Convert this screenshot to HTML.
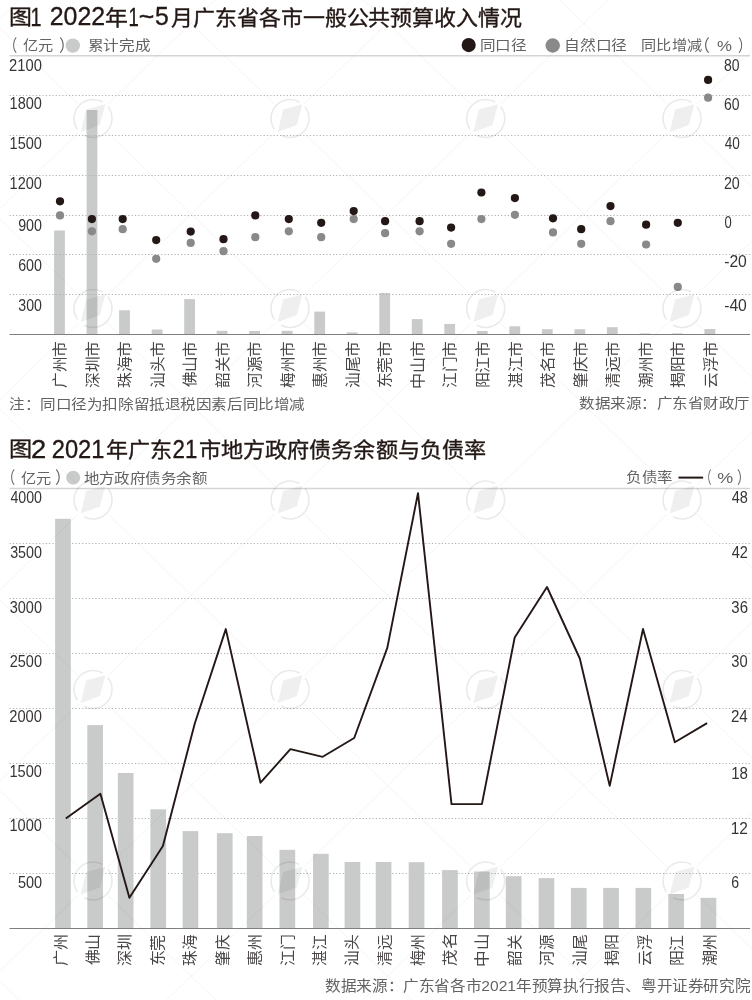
<!DOCTYPE html><html lang="zh-CN"><head><meta charset="utf-8"><style>html,body{margin:0;padding:0;background:#fff;overflow:hidden;}svg{display:block;}text{font-family:"Liberation Sans", sans-serif;}</style></head><body>
<svg width="752" height="1000" viewBox="0 0 752 1000">
<rect width="752" height="1000" fill="#fff"/>
<text x="8.99" y="23.85" font-size="21" font-weight="500" fill="#231815" stroke="#231815" stroke-width="0.35" textLength="22.92" lengthAdjust="spacingAndGlyphs">图</text>
<text x="30.55" y="25.60" font-size="25.5" font-weight="500" fill="#231815" stroke="#231815" stroke-width="0.35" textLength="10.96" lengthAdjust="spacingAndGlyphs">1</text>
<text x="49.78" y="25.35" font-size="25.5" font-weight="500" fill="#231815" stroke="#231815" stroke-width="0.35" textLength="55.43" lengthAdjust="spacingAndGlyphs">2022</text>
<text x="105.51" y="25.10" font-size="21" font-weight="500" fill="#231815" stroke="#231815" stroke-width="0.35" textLength="22.88" lengthAdjust="spacingAndGlyphs">年</text>
<text x="128.45" y="25.60" font-size="25.5" font-weight="500" fill="#231815" stroke="#231815" stroke-width="0.35" textLength="10.32" lengthAdjust="spacingAndGlyphs">1</text>
<text x="138.86" y="24.50" font-size="25.5" font-weight="500" fill="#231815" stroke="#231815" stroke-width="0.35" textLength="15.55" lengthAdjust="spacingAndGlyphs">~</text>
<text x="154.93" y="25.35" font-size="25.5" font-weight="500" fill="#231815" stroke="#231815" stroke-width="0.35" textLength="13.78" lengthAdjust="spacingAndGlyphs">5</text>
<text x="171.02" y="25.10" font-size="21" font-weight="500" fill="#231815" stroke="#231815" stroke-width="0.35" textLength="350.97" lengthAdjust="spacingAndGlyphs">月广东省各市一般公共预算收入情况</text>
<text x="4.40" y="52.15" font-size="16.5" font-weight="300" fill="#646262" textLength="13.60" lengthAdjust="spacingAndGlyphs">（</text>
<text x="23.06" y="50.05" font-size="14" font-weight="300" fill="#646262" textLength="30.39" lengthAdjust="spacingAndGlyphs">亿元</text>
<text x="58.79" y="52.15" font-size="16.5" font-weight="300" fill="#646262" textLength="16.00" lengthAdjust="spacingAndGlyphs">）</text>
<circle cx="72.8" cy="45.6" r="7.2" fill="#c9caca"/>
<text x="87.86" y="49.90" font-size="14" font-weight="300" fill="#646262" textLength="62.39" lengthAdjust="spacingAndGlyphs">累计完成</text>
<circle cx="468.7" cy="45.1" r="7.05" fill="#231815"/>
<text x="479.71" y="49.85" font-size="14" font-weight="300" fill="#646262" textLength="46.64" lengthAdjust="spacingAndGlyphs">同口径</text>
<circle cx="552.7" cy="45.5" r="7.2" fill="#898989"/>
<text x="564.07" y="49.65" font-size="14" font-weight="300" fill="#646262" textLength="62.89" lengthAdjust="spacingAndGlyphs">自然口径</text>
<text x="641.35" y="49.65" font-size="14" font-weight="300" fill="#646262" textLength="60.59" lengthAdjust="spacingAndGlyphs">同比增减</text>
<text x="694.31" y="51.95" font-size="16.5" font-weight="300" fill="#646262" textLength="16.40" lengthAdjust="spacingAndGlyphs">（</text>
<text x="717.06" y="51.05" font-size="15.5" font-weight="300" fill="#646262" textLength="14.93" lengthAdjust="spacingAndGlyphs">%</text>
<text x="737.78" y="51.95" font-size="16.5" font-weight="300" fill="#646262" textLength="14.00" lengthAdjust="spacingAndGlyphs">）</text>
<text x="9.11" y="70.75" font-size="16" font-weight="300" fill="#383434" textLength="32.74" lengthAdjust="spacingAndGlyphs">2100</text>
<text x="9.57" y="109.45" font-size="16" font-weight="300" fill="#383434" textLength="32.27" lengthAdjust="spacingAndGlyphs">1800</text>
<text x="9.57" y="149.05" font-size="16" font-weight="300" fill="#383434" textLength="32.27" lengthAdjust="spacingAndGlyphs">1500</text>
<text x="9.57" y="188.65" font-size="16" font-weight="300" fill="#383434" textLength="32.27" lengthAdjust="spacingAndGlyphs">1200</text>
<text x="18.13" y="231.15" font-size="16" font-weight="300" fill="#383434" textLength="23.79" lengthAdjust="spacingAndGlyphs">900</text>
<text x="18.13" y="271.05" font-size="16" font-weight="300" fill="#383434" textLength="23.79" lengthAdjust="spacingAndGlyphs">600</text>
<text x="18.36" y="310.65" font-size="16" font-weight="300" fill="#383434" textLength="23.56" lengthAdjust="spacingAndGlyphs">300</text>
<text x="723.95" y="71.35" font-size="16" font-weight="300" fill="#383434" textLength="15.53" lengthAdjust="spacingAndGlyphs">80</text>
<text x="723.95" y="110.05" font-size="16" font-weight="300" fill="#383434" textLength="15.53" lengthAdjust="spacingAndGlyphs">60</text>
<text x="724.69" y="149.35" font-size="16" font-weight="300" fill="#383434" textLength="15.07" lengthAdjust="spacingAndGlyphs">40</text>
<text x="723.93" y="188.65" font-size="16" font-weight="300" fill="#383434" textLength="15.86" lengthAdjust="spacingAndGlyphs">20</text>
<text x="724.49" y="227.85" font-size="16" font-weight="300" fill="#383434" textLength="7.24" lengthAdjust="spacingAndGlyphs">0</text>
<text x="724.17" y="267.45" font-size="16" font-weight="300" fill="#383434" textLength="22.65" lengthAdjust="spacingAndGlyphs">-20</text>
<text x="724.17" y="310.95" font-size="16" font-weight="300" fill="#383434" textLength="22.65" lengthAdjust="spacingAndGlyphs">-40</text>
<rect x="54.1" y="230.5" width="10.8" height="103.5" fill="#c9caca"/>
<rect x="86.6" y="110" width="10.8" height="224.0" fill="#c9caca"/>
<rect x="119.1" y="310.3" width="10.8" height="23.7" fill="#c9caca"/>
<rect x="151.7" y="329.5" width="10.8" height="4.5" fill="#c9caca"/>
<rect x="184.2" y="299.1" width="10.8" height="34.9" fill="#c9caca"/>
<rect x="216.7" y="330.8" width="10.8" height="3.2" fill="#c9caca"/>
<rect x="249.2" y="331" width="10.8" height="3.0" fill="#c9caca"/>
<rect x="281.7" y="330.8" width="10.8" height="3.2" fill="#c9caca"/>
<rect x="314.3" y="311.6" width="10.8" height="22.4" fill="#c9caca"/>
<rect x="346.8" y="332.4" width="10.8" height="1.6" fill="#c9caca"/>
<rect x="379.3" y="293" width="10.8" height="41.0" fill="#c9caca"/>
<rect x="411.8" y="319.1" width="10.8" height="14.9" fill="#c9caca"/>
<rect x="444.3" y="323.9" width="10.8" height="10.1" fill="#c9caca"/>
<rect x="476.9" y="331" width="10.8" height="3.0" fill="#c9caca"/>
<rect x="509.4" y="326.3" width="10.8" height="7.7" fill="#c9caca"/>
<rect x="541.9" y="329.2" width="10.8" height="4.8" fill="#c9caca"/>
<rect x="574.4" y="329.2" width="10.8" height="4.8" fill="#c9caca"/>
<rect x="606.9" y="327.2" width="10.8" height="6.8" fill="#c9caca"/>
<rect x="639.5" y="333.4" width="10.8" height="0.6" fill="#c9caca"/>
<rect x="672.0" y="333.4" width="10.8" height="0.6" fill="#c9caca"/>
<rect x="704.5" y="329" width="10.8" height="5.0" fill="#c9caca"/>
<line x1="9.5" y1="55.8" x2="750" y2="55.8" stroke="#d5d5d5" stroke-width="1.5"/>
<line x1="9.5" y1="95.5" x2="750" y2="95.5" stroke="#b0b0b0" stroke-width="1" stroke-dasharray="1.2 2.1"/>
<line x1="9.5" y1="135.5" x2="750" y2="135.5" stroke="#b0b0b0" stroke-width="1" stroke-dasharray="1.2 2.1"/>
<line x1="9.5" y1="175.5" x2="750" y2="175.5" stroke="#b0b0b0" stroke-width="1" stroke-dasharray="1.2 2.1"/>
<line x1="9.5" y1="215.5" x2="750" y2="215.5" stroke="#b0b0b0" stroke-width="1" stroke-dasharray="1.2 2.1"/>
<line x1="9.5" y1="254.5" x2="750" y2="254.5" stroke="#b0b0b0" stroke-width="1" stroke-dasharray="1.2 2.1"/>
<line x1="9.5" y1="294.5" x2="750" y2="294.5" stroke="#b0b0b0" stroke-width="1" stroke-dasharray="1.2 2.1"/>
<line x1="9.5" y1="334.5" x2="750" y2="334.5" stroke="#7f7f7f" stroke-width="1"/>
<circle cx="60" cy="215.4" r="4.1" fill="#898989"/>
<circle cx="60" cy="201.3" r="4.1" fill="#231815"/>
<circle cx="91.9" cy="231.3" r="4.1" fill="#898989"/>
<circle cx="91.9" cy="219.1" r="4.1" fill="#231815"/>
<circle cx="122.7" cy="229.2" r="4.1" fill="#898989"/>
<circle cx="122.7" cy="219.1" r="4.1" fill="#231815"/>
<circle cx="156.2" cy="258.8" r="4.1" fill="#898989"/>
<circle cx="156.2" cy="240.1" r="4.1" fill="#231815"/>
<circle cx="190.7" cy="242.9" r="4.1" fill="#898989"/>
<circle cx="190.7" cy="231.6" r="4.1" fill="#231815"/>
<circle cx="223.5" cy="251.2" r="4.1" fill="#898989"/>
<circle cx="223.5" cy="239.2" r="4.1" fill="#231815"/>
<circle cx="255.3" cy="237.2" r="4.1" fill="#898989"/>
<circle cx="255.3" cy="215.4" r="4.1" fill="#231815"/>
<circle cx="288.8" cy="231.3" r="4.1" fill="#898989"/>
<circle cx="288.8" cy="219.1" r="4.1" fill="#231815"/>
<circle cx="321.2" cy="237.2" r="4.1" fill="#898989"/>
<circle cx="321.2" cy="222.8" r="4.1" fill="#231815"/>
<circle cx="353.7" cy="219.1" r="4.1" fill="#898989"/>
<circle cx="353.7" cy="211.1" r="4.1" fill="#231815"/>
<circle cx="385.1" cy="233.2" r="4.1" fill="#898989"/>
<circle cx="385.1" cy="221.2" r="4.1" fill="#231815"/>
<circle cx="419.6" cy="231.3" r="4.1" fill="#898989"/>
<circle cx="419.6" cy="221.2" r="4.1" fill="#231815"/>
<circle cx="451.1" cy="243.8" r="4.1" fill="#898989"/>
<circle cx="451.1" cy="227.6" r="4.1" fill="#231815"/>
<circle cx="481.4" cy="219.1" r="4.1" fill="#898989"/>
<circle cx="481.4" cy="192.5" r="4.1" fill="#231815"/>
<circle cx="514.9" cy="214.8" r="4.1" fill="#898989"/>
<circle cx="514.9" cy="198.1" r="4.1" fill="#231815"/>
<circle cx="553" cy="232.4" r="4.1" fill="#898989"/>
<circle cx="553" cy="218.3" r="4.1" fill="#231815"/>
<circle cx="581.2" cy="243.8" r="4.1" fill="#898989"/>
<circle cx="581.2" cy="229.2" r="4.1" fill="#231815"/>
<circle cx="610.5" cy="221.2" r="4.1" fill="#898989"/>
<circle cx="610.5" cy="206.1" r="4.1" fill="#231815"/>
<circle cx="646.1" cy="244.5" r="4.1" fill="#898989"/>
<circle cx="646.1" cy="224.7" r="4.1" fill="#231815"/>
<circle cx="677.8" cy="286.9" r="4.1" fill="#898989"/>
<circle cx="677.8" cy="222.8" r="4.1" fill="#231815"/>
<circle cx="708.1" cy="97.7" r="4.1" fill="#898989"/>
<circle cx="708.1" cy="79.9" r="4.1" fill="#231815"/>
<text transform="translate(65.25,387.77) rotate(-90)" font-size="15.3" font-weight="300" fill="#4a4646" textLength="46.29" lengthAdjust="spacingAndGlyphs">广州市</text>
<text transform="translate(97.77,387.77) rotate(-90)" font-size="15.3" font-weight="300" fill="#4a4646" textLength="46.29" lengthAdjust="spacingAndGlyphs">深圳市</text>
<text transform="translate(130.29,387.77) rotate(-90)" font-size="15.3" font-weight="300" fill="#4a4646" textLength="46.29" lengthAdjust="spacingAndGlyphs">珠海市</text>
<text transform="translate(162.81,387.77) rotate(-90)" font-size="15.3" font-weight="300" fill="#4a4646" textLength="46.29" lengthAdjust="spacingAndGlyphs">汕头市</text>
<text transform="translate(195.33,387.25) rotate(-90)" font-size="15.3" font-weight="300" fill="#4a4646" textLength="45.76" lengthAdjust="spacingAndGlyphs">佛山市</text>
<text transform="translate(227.85,387.51) rotate(-90)" font-size="15.3" font-weight="300" fill="#4a4646" textLength="46.02" lengthAdjust="spacingAndGlyphs">韶关市</text>
<text transform="translate(260.37,387.51) rotate(-90)" font-size="15.3" font-weight="300" fill="#4a4646" textLength="46.02" lengthAdjust="spacingAndGlyphs">河源市</text>
<text transform="translate(292.89,387.51) rotate(-90)" font-size="15.3" font-weight="300" fill="#4a4646" textLength="46.02" lengthAdjust="spacingAndGlyphs">梅州市</text>
<text transform="translate(325.41,387.77) rotate(-90)" font-size="15.3" font-weight="300" fill="#4a4646" textLength="46.29" lengthAdjust="spacingAndGlyphs">惠州市</text>
<text transform="translate(357.93,387.77) rotate(-90)" font-size="15.3" font-weight="300" fill="#4a4646" textLength="46.29" lengthAdjust="spacingAndGlyphs">汕尾市</text>
<text transform="translate(390.45,388.30) rotate(-90)" font-size="15.3" font-weight="300" fill="#4a4646" textLength="46.82" lengthAdjust="spacingAndGlyphs">东莞市</text>
<text transform="translate(422.97,388.57) rotate(-90)" font-size="15.3" font-weight="300" fill="#4a4646" textLength="47.09" lengthAdjust="spacingAndGlyphs">中山市</text>
<text transform="translate(455.49,387.77) rotate(-90)" font-size="15.3" font-weight="300" fill="#4a4646" textLength="46.29" lengthAdjust="spacingAndGlyphs">江门市</text>
<text transform="translate(488.01,388.30) rotate(-90)" font-size="15.3" font-weight="300" fill="#4a4646" textLength="46.82" lengthAdjust="spacingAndGlyphs">阳江市</text>
<text transform="translate(520.53,387.77) rotate(-90)" font-size="15.3" font-weight="300" fill="#4a4646" textLength="46.29" lengthAdjust="spacingAndGlyphs">湛江市</text>
<text transform="translate(553.05,387.51) rotate(-90)" font-size="15.3" font-weight="300" fill="#4a4646" textLength="46.02" lengthAdjust="spacingAndGlyphs">茂名市</text>
<text transform="translate(585.57,387.51) rotate(-90)" font-size="15.3" font-weight="300" fill="#4a4646" textLength="46.02" lengthAdjust="spacingAndGlyphs">肇庆市</text>
<text transform="translate(618.09,387.51) rotate(-90)" font-size="15.3" font-weight="300" fill="#4a4646" textLength="46.02" lengthAdjust="spacingAndGlyphs">清远市</text>
<text transform="translate(650.61,387.51) rotate(-90)" font-size="15.3" font-weight="300" fill="#4a4646" textLength="46.02" lengthAdjust="spacingAndGlyphs">潮州市</text>
<text transform="translate(683.13,387.77) rotate(-90)" font-size="15.3" font-weight="300" fill="#4a4646" textLength="46.29" lengthAdjust="spacingAndGlyphs">揭阳市</text>
<text transform="translate(715.65,387.77) rotate(-90)" font-size="15.3" font-weight="300" fill="#4a4646" textLength="46.29" lengthAdjust="spacingAndGlyphs">云浮市</text>
<text x="9.04" y="408.60" font-size="14" font-weight="300" fill="#646262" textLength="295.81" lengthAdjust="spacingAndGlyphs">注：同口径为扣除留抵退税因素后同比增减</text>
<text x="579.35" y="408.35" font-size="14" font-weight="300" fill="#646262" textLength="170.61" lengthAdjust="spacingAndGlyphs">数据来源：广东省财政厅</text>
<text x="9.07" y="456.15" font-size="21" font-weight="500" fill="#231815" stroke="#231815" stroke-width="0.35" textLength="23.16" lengthAdjust="spacingAndGlyphs">图</text>
<text x="30.96" y="458.40" font-size="25.5" font-weight="500" fill="#231815" stroke="#231815" stroke-width="0.35" textLength="15.21" lengthAdjust="spacingAndGlyphs">2</text>
<text x="51.74" y="458.15" font-size="25.5" font-weight="500" fill="#231815" stroke="#231815" stroke-width="0.35" textLength="52.71" lengthAdjust="spacingAndGlyphs">2021</text>
<text x="105.55" y="457.40" font-size="21" font-weight="500" fill="#231815" stroke="#231815" stroke-width="0.35" textLength="66.06" lengthAdjust="spacingAndGlyphs">年广东</text>
<text x="172.51" y="458.40" font-size="25.5" font-weight="500" fill="#231815" stroke="#231815" stroke-width="0.35" textLength="24.77" lengthAdjust="spacingAndGlyphs">21</text>
<text x="198.55" y="457.40" font-size="21" font-weight="500" fill="#231815" stroke="#231815" stroke-width="0.35" textLength="287.61" lengthAdjust="spacingAndGlyphs">市地方政府债务余额与负债率</text>
<text x="2.40" y="484.35" font-size="16.5" font-weight="300" fill="#646262" textLength="13.60" lengthAdjust="spacingAndGlyphs">（</text>
<text x="21.06" y="482.75" font-size="14" font-weight="300" fill="#646262" textLength="30.39" lengthAdjust="spacingAndGlyphs">亿元</text>
<text x="55.49" y="484.35" font-size="16.5" font-weight="300" fill="#646262" textLength="16.00" lengthAdjust="spacingAndGlyphs">）</text>
<circle cx="73.15" cy="477.65" r="7.0" fill="#c9caca"/>
<text x="83.55" y="483.00" font-size="14" font-weight="300" fill="#646262" textLength="123.81" lengthAdjust="spacingAndGlyphs">地方政府债务余额</text>
<text x="626.47" y="482.25" font-size="14" font-weight="300" fill="#646262" textLength="46.25" lengthAdjust="spacingAndGlyphs">负债率</text>
<line x1="678.5" y1="477.6" x2="703.1" y2="477.6" stroke="#231815" stroke-width="2"/>
<text x="701.19" y="484.35" font-size="16.5" font-weight="300" fill="#646262" textLength="10.80" lengthAdjust="spacingAndGlyphs">（</text>
<text x="717.22" y="482.65" font-size="15.5" font-weight="300" fill="#646262" textLength="15.91" lengthAdjust="spacingAndGlyphs">%</text>
<text x="737.22" y="484.35" font-size="16.5" font-weight="300" fill="#646262" textLength="13.20" lengthAdjust="spacingAndGlyphs">）</text>
<line x1="9.5" y1="488.4" x2="750" y2="488.4" stroke="#d5d5d5" stroke-width="1.5"/>
<line x1="9.5" y1="543.5" x2="750" y2="543.5" stroke="#b0b0b0" stroke-width="1" stroke-dasharray="1.2 2.1"/>
<line x1="9.5" y1="598.5" x2="750" y2="598.5" stroke="#b0b0b0" stroke-width="1" stroke-dasharray="1.2 2.1"/>
<line x1="9.5" y1="653.5" x2="750" y2="653.5" stroke="#b0b0b0" stroke-width="1" stroke-dasharray="1.2 2.1"/>
<line x1="9.5" y1="708.5" x2="750" y2="708.5" stroke="#b0b0b0" stroke-width="1" stroke-dasharray="1.2 2.1"/>
<line x1="9.5" y1="763.5" x2="750" y2="763.5" stroke="#b0b0b0" stroke-width="1" stroke-dasharray="1.2 2.1"/>
<line x1="9.5" y1="818.5" x2="750" y2="818.5" stroke="#b0b0b0" stroke-width="1" stroke-dasharray="1.2 2.1"/>
<line x1="9.5" y1="873.5" x2="750" y2="873.5" stroke="#b0b0b0" stroke-width="1" stroke-dasharray="1.2 2.1"/>
<text x="10.38" y="503.05" font-size="16" font-weight="300" fill="#383434" textLength="31.55" lengthAdjust="spacingAndGlyphs">4000</text>
<text x="10.15" y="558.25" font-size="16" font-weight="300" fill="#383434" textLength="31.78" lengthAdjust="spacingAndGlyphs">3500</text>
<text x="9.75" y="612.65" font-size="16" font-weight="300" fill="#383434" textLength="32.19" lengthAdjust="spacingAndGlyphs">3000</text>
<text x="9.72" y="667.45" font-size="16" font-weight="300" fill="#383434" textLength="32.22" lengthAdjust="spacingAndGlyphs">2500</text>
<text x="9.31" y="722.25" font-size="16" font-weight="300" fill="#383434" textLength="32.63" lengthAdjust="spacingAndGlyphs">2000</text>
<text x="9.46" y="777.05" font-size="16" font-weight="300" fill="#383434" textLength="32.48" lengthAdjust="spacingAndGlyphs">1500</text>
<text x="9.46" y="831.25" font-size="16" font-weight="300" fill="#383434" textLength="32.48" lengthAdjust="spacingAndGlyphs">1000</text>
<text x="17.92" y="888.25" font-size="16" font-weight="300" fill="#383434" textLength="24.11" lengthAdjust="spacingAndGlyphs">500</text>
<text x="731.77" y="503.25" font-size="16" font-weight="300" fill="#383434" textLength="16.15" lengthAdjust="spacingAndGlyphs">48</text>
<text x="731.77" y="558.25" font-size="16" font-weight="300" fill="#383434" textLength="16.15" lengthAdjust="spacingAndGlyphs">42</text>
<text x="731.33" y="612.65" font-size="16" font-weight="300" fill="#383434" textLength="16.61" lengthAdjust="spacingAndGlyphs">36</text>
<text x="731.34" y="667.45" font-size="16" font-weight="300" fill="#383434" textLength="16.36" lengthAdjust="spacingAndGlyphs">30</text>
<text x="730.89" y="722.45" font-size="16" font-weight="300" fill="#383434" textLength="16.83" lengthAdjust="spacingAndGlyphs">24</text>
<text x="731.23" y="779.05" font-size="16" font-weight="300" fill="#383434" textLength="16.72" lengthAdjust="spacingAndGlyphs">18</text>
<text x="730.79" y="833.65" font-size="16" font-weight="300" fill="#383434" textLength="17.18" lengthAdjust="spacingAndGlyphs">12</text>
<text x="731.14" y="888.25" font-size="16" font-weight="300" fill="#383434" textLength="7.84" lengthAdjust="spacingAndGlyphs">6</text>
<rect x="55.1" y="518.8" width="15.7" height="409.2" fill="#c9caca"/>
<rect x="87.3" y="725.1" width="15.7" height="202.9" fill="#c9caca"/>
<rect x="117.8" y="773" width="15.7" height="155.0" fill="#c9caca"/>
<rect x="150.4" y="809.3" width="15.7" height="118.7" fill="#c9caca"/>
<rect x="182.6" y="831.1" width="15.7" height="96.9" fill="#c9caca"/>
<rect x="216.9" y="833.2" width="15.7" height="94.8" fill="#c9caca"/>
<rect x="246.8" y="836" width="15.7" height="92.0" fill="#c9caca"/>
<rect x="279.5" y="849.8" width="15.7" height="78.2" fill="#c9caca"/>
<rect x="313" y="853.8" width="15.7" height="74.2" fill="#c9caca"/>
<rect x="344.6" y="862" width="15.7" height="66.0" fill="#c9caca"/>
<rect x="375.7" y="862" width="15.7" height="66.0" fill="#c9caca"/>
<rect x="408.7" y="862.2" width="15.7" height="65.8" fill="#c9caca"/>
<rect x="442.1" y="870.1" width="15.7" height="57.9" fill="#c9caca"/>
<rect x="474" y="871.5" width="15.7" height="56.5" fill="#c9caca"/>
<rect x="505.8" y="876.2" width="15.7" height="51.8" fill="#c9caca"/>
<rect x="538.6" y="878.1" width="15.7" height="49.9" fill="#c9caca"/>
<rect x="570.9" y="887.9" width="15.7" height="40.1" fill="#c9caca"/>
<rect x="603.2" y="887.9" width="15.7" height="40.1" fill="#c9caca"/>
<rect x="635.5" y="887.9" width="15.7" height="40.1" fill="#c9caca"/>
<rect x="668.3" y="894" width="15.7" height="34.0" fill="#c9caca"/>
<rect x="700.6" y="897.8" width="15.7" height="30.2" fill="#c9caca"/>
<line x1="9.5" y1="928.5" x2="750" y2="928.5" stroke="#7f7f7f" stroke-width="1"/>
<path d="M65.8,818.6L100.4,793.8L129.4,897.8L162.9,846L194.7,723.7L225.8,629.1L260.5,782.7L290.4,749.2L322.7,756.8L354.2,738L387.3,647.9L418,493.1L451.5,804.1L481.9,804.1L514.7,637.5L547,587L579.8,658.5L609.7,785.9L643,629L674.8,742.3L707.1,723.1" fill="none" stroke="#231815" stroke-width="1.9" stroke-linejoin="round"/>
<text transform="translate(65.60,965.79) rotate(-90)" font-size="15.3" font-weight="300" fill="#4a4646" textLength="31.71" lengthAdjust="spacingAndGlyphs">广州</text>
<text transform="translate(98.05,965.26) rotate(-90)" font-size="15.3" font-weight="300" fill="#4a4646" textLength="31.16" lengthAdjust="spacingAndGlyphs">佛山</text>
<text transform="translate(130.25,965.79) rotate(-90)" font-size="15.3" font-weight="300" fill="#4a4646" textLength="31.43" lengthAdjust="spacingAndGlyphs">深圳</text>
<text transform="translate(162.95,966.31) rotate(-90)" font-size="15.3" font-weight="300" fill="#4a4646" textLength="31.43" lengthAdjust="spacingAndGlyphs">东莞</text>
<text transform="translate(195.40,965.77) rotate(-90)" font-size="15.3" font-weight="300" fill="#4a4646" textLength="30.62" lengthAdjust="spacingAndGlyphs">珠海</text>
<text transform="translate(227.85,965.51) rotate(-90)" font-size="15.3" font-weight="300" fill="#4a4646" textLength="30.36" lengthAdjust="spacingAndGlyphs">肇庆</text>
<text transform="translate(260.30,965.79) rotate(-90)" font-size="15.3" font-weight="300" fill="#4a4646" textLength="31.71" lengthAdjust="spacingAndGlyphs">惠州</text>
<text transform="translate(292.75,965.79) rotate(-90)" font-size="15.3" font-weight="300" fill="#4a4646" textLength="31.43" lengthAdjust="spacingAndGlyphs">江门</text>
<text transform="translate(325.20,965.77) rotate(-90)" font-size="15.3" font-weight="300" fill="#4a4646" textLength="30.62" lengthAdjust="spacingAndGlyphs">湛江</text>
<text transform="translate(357.40,965.77) rotate(-90)" font-size="15.3" font-weight="300" fill="#4a4646" textLength="30.89" lengthAdjust="spacingAndGlyphs">汕头</text>
<text transform="translate(390.10,965.51) rotate(-90)" font-size="15.3" font-weight="300" fill="#4a4646" textLength="30.36" lengthAdjust="spacingAndGlyphs">清远</text>
<text transform="translate(422.55,965.52) rotate(-90)" font-size="15.3" font-weight="300" fill="#4a4646" textLength="31.43" lengthAdjust="spacingAndGlyphs">梅州</text>
<text transform="translate(455.00,965.54) rotate(-90)" font-size="15.3" font-weight="300" fill="#4a4646" textLength="32.29" lengthAdjust="spacingAndGlyphs">茂名</text>
<text transform="translate(487.45,966.63) rotate(-90)" font-size="15.3" font-weight="300" fill="#4a4646" textLength="32.59" lengthAdjust="spacingAndGlyphs">中山</text>
<text transform="translate(519.90,965.51) rotate(-90)" font-size="15.3" font-weight="300" fill="#4a4646" textLength="30.36" lengthAdjust="spacingAndGlyphs">韶关</text>
<text transform="translate(552.10,965.51) rotate(-90)" font-size="15.3" font-weight="300" fill="#4a4646" textLength="30.36" lengthAdjust="spacingAndGlyphs">河源</text>
<text transform="translate(584.55,965.77) rotate(-90)" font-size="15.3" font-weight="300" fill="#4a4646" textLength="30.89" lengthAdjust="spacingAndGlyphs">汕尾</text>
<text transform="translate(617.25,965.79) rotate(-90)" font-size="15.3" font-weight="300" fill="#4a4646" textLength="31.43" lengthAdjust="spacingAndGlyphs">揭阳</text>
<text transform="translate(649.70,965.78) rotate(-90)" font-size="15.3" font-weight="300" fill="#4a4646" textLength="31.16" lengthAdjust="spacingAndGlyphs">云浮</text>
<text transform="translate(681.90,966.30) rotate(-90)" font-size="15.3" font-weight="300" fill="#4a4646" textLength="31.16" lengthAdjust="spacingAndGlyphs">阳江</text>
<text transform="translate(714.60,965.52) rotate(-90)" font-size="15.3" font-weight="300" fill="#4a4646" textLength="31.43" lengthAdjust="spacingAndGlyphs">潮州</text>
<text x="325.12" y="990.80" font-size="15" font-weight="300" fill="#646262" textLength="425.23" lengthAdjust="spacingAndGlyphs">数据来源：广东省各市2021年预算执行报告、粤开证券研究院</text>
<defs><mask id="wmm" maskUnits="userSpaceOnUse" x="0" y="0" width="752" height="1000"><rect width="752" height="1000" fill="#fff"/><circle cx="93" cy="118.5" r="20.5" fill="#000"/><circle cx="290" cy="118.5" r="20.5" fill="#000"/><circle cx="485.7" cy="118.5" r="20.5" fill="#000"/><circle cx="682" cy="118.5" r="20.5" fill="#000"/><circle cx="93" cy="308.5" r="20.5" fill="#000"/><circle cx="290" cy="308.5" r="20.5" fill="#000"/><circle cx="485.7" cy="308.5" r="20.5" fill="#000"/><circle cx="682" cy="308.5" r="20.5" fill="#000"/><circle cx="93" cy="500" r="20.5" fill="#000"/><circle cx="290" cy="500" r="20.5" fill="#000"/><circle cx="485.7" cy="500" r="20.5" fill="#000"/><circle cx="682" cy="500" r="20.5" fill="#000"/><circle cx="93" cy="689.5" r="20.5" fill="#000"/><circle cx="290" cy="689.5" r="20.5" fill="#000"/><circle cx="485.7" cy="689.5" r="20.5" fill="#000"/><circle cx="682" cy="689.5" r="20.5" fill="#000"/><circle cx="93" cy="881" r="20.5" fill="#000"/><circle cx="290" cy="881" r="20.5" fill="#000"/><circle cx="485.7" cy="881" r="20.5" fill="#000"/><circle cx="682" cy="881" r="20.5" fill="#000"/></mask></defs>
<g style="mix-blend-mode:multiply"><path d="M-1650.9,-50L-518.0,1050M-1303.9,-50L-2436.8,1050M-1454.6,-50L-321.7,1050M-1107.6,-50L-2240.5,1050M-1258.3,-50L-125.4,1050M-911.3,-50L-2044.2,1050M-1062.0,-50L70.9,1050M-715.0,-50L-1847.9,1050M-865.7,-50L267.2,1050M-518.7,-50L-1651.6,1050M-669.4,-50L463.5,1050M-322.4,-50L-1455.3,1050M-473.1,-50L659.8,1050M-126.1,-50L-1259.0,1050M-276.8,-50L856.1,1050M70.2,-50L-1062.7,1050M-80.5,-50L1052.4,1050M266.5,-50L-866.4,1050M115.8,-50L1248.7,1050M462.8,-50L-670.1,1050M312.1,-50L1445.0,1050M659.1,-50L-473.8,1050M508.4,-50L1641.3,1050M855.4,-50L-277.5,1050M704.7,-50L1837.6,1050M1051.7,-50L-81.2,1050M901.0,-50L2033.9,1050M1248.0,-50L115.1,1050M1097.3,-50L2230.2,1050M1444.3,-50L311.4,1050M1293.6,-50L2426.5,1050M1640.6,-50L507.7,1050M1489.9,-50L2622.8,1050M1836.9,-50L704.0,1050" stroke="#f4f4f4" stroke-width="1" fill="none" mask="url(#wmm)"/><g transform="translate(93,118.5)"><path d="M14.97,-11.70A19,19 0 0 1 -8.92,16.78M-15.56,10.90A19,19 0 0 1 9.50,-16.45" fill="none" stroke="#eaeaea" stroke-width="1.6"/><path d="M12.4,-14.3L-6.8,-9.1L-12.3,13.6L6.8,6.4Z" fill="#efefef"/></g><g transform="translate(290,118.5)"><path d="M14.97,-11.70A19,19 0 0 1 -8.92,16.78M-15.56,10.90A19,19 0 0 1 9.50,-16.45" fill="none" stroke="#eaeaea" stroke-width="1.6"/><path d="M12.4,-14.3L-6.8,-9.1L-12.3,13.6L6.8,6.4Z" fill="#efefef"/></g><g transform="translate(485.7,118.5)"><path d="M14.97,-11.70A19,19 0 0 1 -8.92,16.78M-15.56,10.90A19,19 0 0 1 9.50,-16.45" fill="none" stroke="#eaeaea" stroke-width="1.6"/><path d="M12.4,-14.3L-6.8,-9.1L-12.3,13.6L6.8,6.4Z" fill="#efefef"/></g><g transform="translate(682,118.5)"><path d="M14.97,-11.70A19,19 0 0 1 -8.92,16.78M-15.56,10.90A19,19 0 0 1 9.50,-16.45" fill="none" stroke="#eaeaea" stroke-width="1.6"/><path d="M12.4,-14.3L-6.8,-9.1L-12.3,13.6L6.8,6.4Z" fill="#efefef"/></g><g transform="translate(93,308.5)"><path d="M14.97,-11.70A19,19 0 0 1 -8.92,16.78M-15.56,10.90A19,19 0 0 1 9.50,-16.45" fill="none" stroke="#eaeaea" stroke-width="1.6"/><path d="M12.4,-14.3L-6.8,-9.1L-12.3,13.6L6.8,6.4Z" fill="#efefef"/></g><g transform="translate(290,308.5)"><path d="M14.97,-11.70A19,19 0 0 1 -8.92,16.78M-15.56,10.90A19,19 0 0 1 9.50,-16.45" fill="none" stroke="#eaeaea" stroke-width="1.6"/><path d="M12.4,-14.3L-6.8,-9.1L-12.3,13.6L6.8,6.4Z" fill="#efefef"/></g><g transform="translate(485.7,308.5)"><path d="M14.97,-11.70A19,19 0 0 1 -8.92,16.78M-15.56,10.90A19,19 0 0 1 9.50,-16.45" fill="none" stroke="#eaeaea" stroke-width="1.6"/><path d="M12.4,-14.3L-6.8,-9.1L-12.3,13.6L6.8,6.4Z" fill="#efefef"/></g><g transform="translate(682,308.5)"><path d="M14.97,-11.70A19,19 0 0 1 -8.92,16.78M-15.56,10.90A19,19 0 0 1 9.50,-16.45" fill="none" stroke="#eaeaea" stroke-width="1.6"/><path d="M12.4,-14.3L-6.8,-9.1L-12.3,13.6L6.8,6.4Z" fill="#efefef"/></g><g transform="translate(93,500)"><path d="M14.97,-11.70A19,19 0 0 1 -8.92,16.78M-15.56,10.90A19,19 0 0 1 9.50,-16.45" fill="none" stroke="#eaeaea" stroke-width="1.6"/><path d="M12.4,-14.3L-6.8,-9.1L-12.3,13.6L6.8,6.4Z" fill="#efefef"/></g><g transform="translate(290,500)"><path d="M14.97,-11.70A19,19 0 0 1 -8.92,16.78M-15.56,10.90A19,19 0 0 1 9.50,-16.45" fill="none" stroke="#eaeaea" stroke-width="1.6"/><path d="M12.4,-14.3L-6.8,-9.1L-12.3,13.6L6.8,6.4Z" fill="#efefef"/></g><g transform="translate(485.7,500)"><path d="M14.97,-11.70A19,19 0 0 1 -8.92,16.78M-15.56,10.90A19,19 0 0 1 9.50,-16.45" fill="none" stroke="#eaeaea" stroke-width="1.6"/><path d="M12.4,-14.3L-6.8,-9.1L-12.3,13.6L6.8,6.4Z" fill="#efefef"/></g><g transform="translate(682,500)"><path d="M14.97,-11.70A19,19 0 0 1 -8.92,16.78M-15.56,10.90A19,19 0 0 1 9.50,-16.45" fill="none" stroke="#eaeaea" stroke-width="1.6"/><path d="M12.4,-14.3L-6.8,-9.1L-12.3,13.6L6.8,6.4Z" fill="#efefef"/></g><g transform="translate(93,689.5)"><path d="M14.97,-11.70A19,19 0 0 1 -8.92,16.78M-15.56,10.90A19,19 0 0 1 9.50,-16.45" fill="none" stroke="#eaeaea" stroke-width="1.6"/><path d="M12.4,-14.3L-6.8,-9.1L-12.3,13.6L6.8,6.4Z" fill="#efefef"/></g><g transform="translate(290,689.5)"><path d="M14.97,-11.70A19,19 0 0 1 -8.92,16.78M-15.56,10.90A19,19 0 0 1 9.50,-16.45" fill="none" stroke="#eaeaea" stroke-width="1.6"/><path d="M12.4,-14.3L-6.8,-9.1L-12.3,13.6L6.8,6.4Z" fill="#efefef"/></g><g transform="translate(485.7,689.5)"><path d="M14.97,-11.70A19,19 0 0 1 -8.92,16.78M-15.56,10.90A19,19 0 0 1 9.50,-16.45" fill="none" stroke="#eaeaea" stroke-width="1.6"/><path d="M12.4,-14.3L-6.8,-9.1L-12.3,13.6L6.8,6.4Z" fill="#efefef"/></g><g transform="translate(682,689.5)"><path d="M14.97,-11.70A19,19 0 0 1 -8.92,16.78M-15.56,10.90A19,19 0 0 1 9.50,-16.45" fill="none" stroke="#eaeaea" stroke-width="1.6"/><path d="M12.4,-14.3L-6.8,-9.1L-12.3,13.6L6.8,6.4Z" fill="#efefef"/></g><g transform="translate(93,881)"><path d="M14.97,-11.70A19,19 0 0 1 -8.92,16.78M-15.56,10.90A19,19 0 0 1 9.50,-16.45" fill="none" stroke="#eaeaea" stroke-width="1.6"/><path d="M12.4,-14.3L-6.8,-9.1L-12.3,13.6L6.8,6.4Z" fill="#efefef"/></g><g transform="translate(290,881)"><path d="M14.97,-11.70A19,19 0 0 1 -8.92,16.78M-15.56,10.90A19,19 0 0 1 9.50,-16.45" fill="none" stroke="#eaeaea" stroke-width="1.6"/><path d="M12.4,-14.3L-6.8,-9.1L-12.3,13.6L6.8,6.4Z" fill="#efefef"/></g><g transform="translate(485.7,881)"><path d="M14.97,-11.70A19,19 0 0 1 -8.92,16.78M-15.56,10.90A19,19 0 0 1 9.50,-16.45" fill="none" stroke="#eaeaea" stroke-width="1.6"/><path d="M12.4,-14.3L-6.8,-9.1L-12.3,13.6L6.8,6.4Z" fill="#efefef"/></g><g transform="translate(682,881)"><path d="M14.97,-11.70A19,19 0 0 1 -8.92,16.78M-15.56,10.90A19,19 0 0 1 9.50,-16.45" fill="none" stroke="#eaeaea" stroke-width="1.6"/><path d="M12.4,-14.3L-6.8,-9.1L-12.3,13.6L6.8,6.4Z" fill="#efefef"/></g></g>
</svg></body></html>
